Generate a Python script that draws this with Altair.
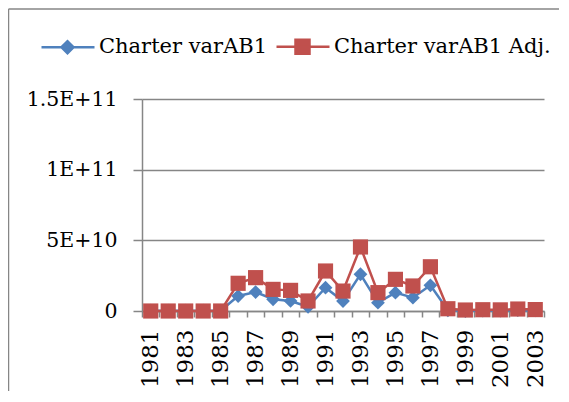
import altair as alt
import pandas as pd

years = [str(y) for y in range(1981, 2004)]
series_names = ["Charter varAB1", "Charter varAB1 Adj."]
varab1 = [0.02e10, 0.02e10, 0.02e10, 0.02e10, 0.02e10, 1.06e10, 1.34e10, 0.83e10,
          0.71e10, 0.30e10, 1.65e10, 0.70e10, 2.60e10, 0.59e10, 1.30e10, 0.94e10,
          1.82e10, 0.05e10, 0.0, 0.03e10, 0.03e10, 0.06e10, 0.04e10]
varab1_adj = [0.0, 0.0, 0.0, 0.0, 0.0, 1.96e10, 2.36e10, 1.53e10, 1.46e10, 0.71e10,
              2.83e10, 1.41e10, 4.53e10, 1.30e10, 2.24e10, 1.77e10, 3.13e10, 0.16e10,
              0.07e10, 0.09e10, 0.08e10, 0.14e10, 0.10e10]
y_ticks = [0, 5e10, 1e11, 1.5e11]

rows = []
for name, vals in zip(series_names, [varab1, varab1_adj]):
    for yr, v in zip(years, vals):
        rows.append({"year": yr, "series": name, "value": v})
df = pd.DataFrame(rows)

BLUE = "#4F81BD"
RED = "#C0504D"
GRAY = "#868686"
FONT = "DejaVu Serif"

color_scale = alt.Scale(domain=series_names, range=[BLUE, RED])

x_enc = alt.X("year:O", sort=years, title=None,
              scale=alt.Scale(paddingInner=0, paddingOuter=0),
              axis=alt.Axis(labelAngle=270, labelFont=FONT, labelFontSize=23,
                            labelColor="black", labelPadding=12, tickBand="extent",
                            tickSize=6, tickColor=GRAY, domainColor=GRAY,
                            domainWidth=1.5, tickWidth=1.5, grid=False,
                            labelExpr="parseInt(datum.value) % 2 == 1 ? datum.label : ''"))
y_enc = alt.Y("value:Q", title=None,
              scale=alt.Scale(domain=[0, 1.5e11], nice=False),
              axis=alt.Axis(values=y_ticks, labelFont=FONT, labelFontSize=20.5,
                            labelColor="black", labelPadding=16, tickSize=9,
                            tickColor=GRAY, tickWidth=1.5, domainColor=GRAY,
                            domainWidth=1.5, gridColor=GRAY, gridWidth=1.5,
                            labelExpr="datum.value == 0 ? '0' : replace(format(datum.value, '.2~e'), 'e', 'E')"))

base = alt.Chart(df)

lines = base.mark_line(strokeWidth=2.5).encode(
    x=x_enc, y=y_enc,
    color=alt.Color("series:N", scale=color_scale, legend=None),
    detail="series:N",
)

points = base.mark_point(filled=True, opacity=1).encode(
    x=x_enc, y=y_enc,
    color=alt.Color("series:N", scale=color_scale, legend=None),
    shape=alt.Shape("series:N", scale=alt.Scale(domain=series_names, range=["diamond", "square"]), legend=None),
    size=alt.Size("series:N", scale=alt.Scale(domain=series_names, range=[190, 230]), legend=None),
)

legend_paths = [
    "M-26,0H27M-6,0L0,-6L6,0L0,6Z",
    "M-26,0H27M-7,-7H7V7H-7Z",
]
legend_layer = base.mark_point(filled=True, opacity=1).encode(
    x=x_enc, y=y_enc,
    fill=alt.Fill("series:N", scale=alt.Scale(domain=series_names, range=[BLUE, RED]), title=None,
                  legend=alt.Legend(orient="none", direction="horizontal", legendX=-85, legendY=-63,
                                    labelFont=FONT, labelFontSize=21, labelColor="black",
                                    labelLimit=400, symbolSize=4, symbolStrokeWidth=2.5,
                                    labelOffset=21, columnPadding=3, padding=0,
                                    symbolOpacity=1)),
    stroke=alt.Stroke("series:N", scale=alt.Scale(domain=series_names, range=[BLUE, RED]), title=None),
    shape=alt.Shape("series:N", scale=alt.Scale(domain=series_names, range=legend_paths), title=None),
).transform_filter("false")

frame = alt.Chart(pd.DataFrame({"k": [0]})).mark_rule(color=GRAY, strokeWidth=1.5).encode(
    x=alt.value(-133.5), y=alt.value(-90), x2=alt.value(600), y2=alt.value(-90)
)
frame_left = alt.Chart(pd.DataFrame({"k": [0]})).mark_rule(color=GRAY, strokeWidth=1.5).encode(
    x=alt.value(-133.5), y=alt.value(-90), x2=alt.value(-133.5), y2=alt.value(320)
)

chart = alt.layer(frame, frame_left, lines, points, legend_layer).resolve_scale(
    color="independent", shape="independent", fill="independent", stroke="independent"
).properties(
    width=402, height=212,
    autosize=alt.AutoSizeParams(type="none"),
    padding={"left": 134, "top": 91, "right": 15, "bottom": 80},
).configure_view(stroke=None)

chart.save("out.html", embed_options={"renderer": "svg", "actions": False})
